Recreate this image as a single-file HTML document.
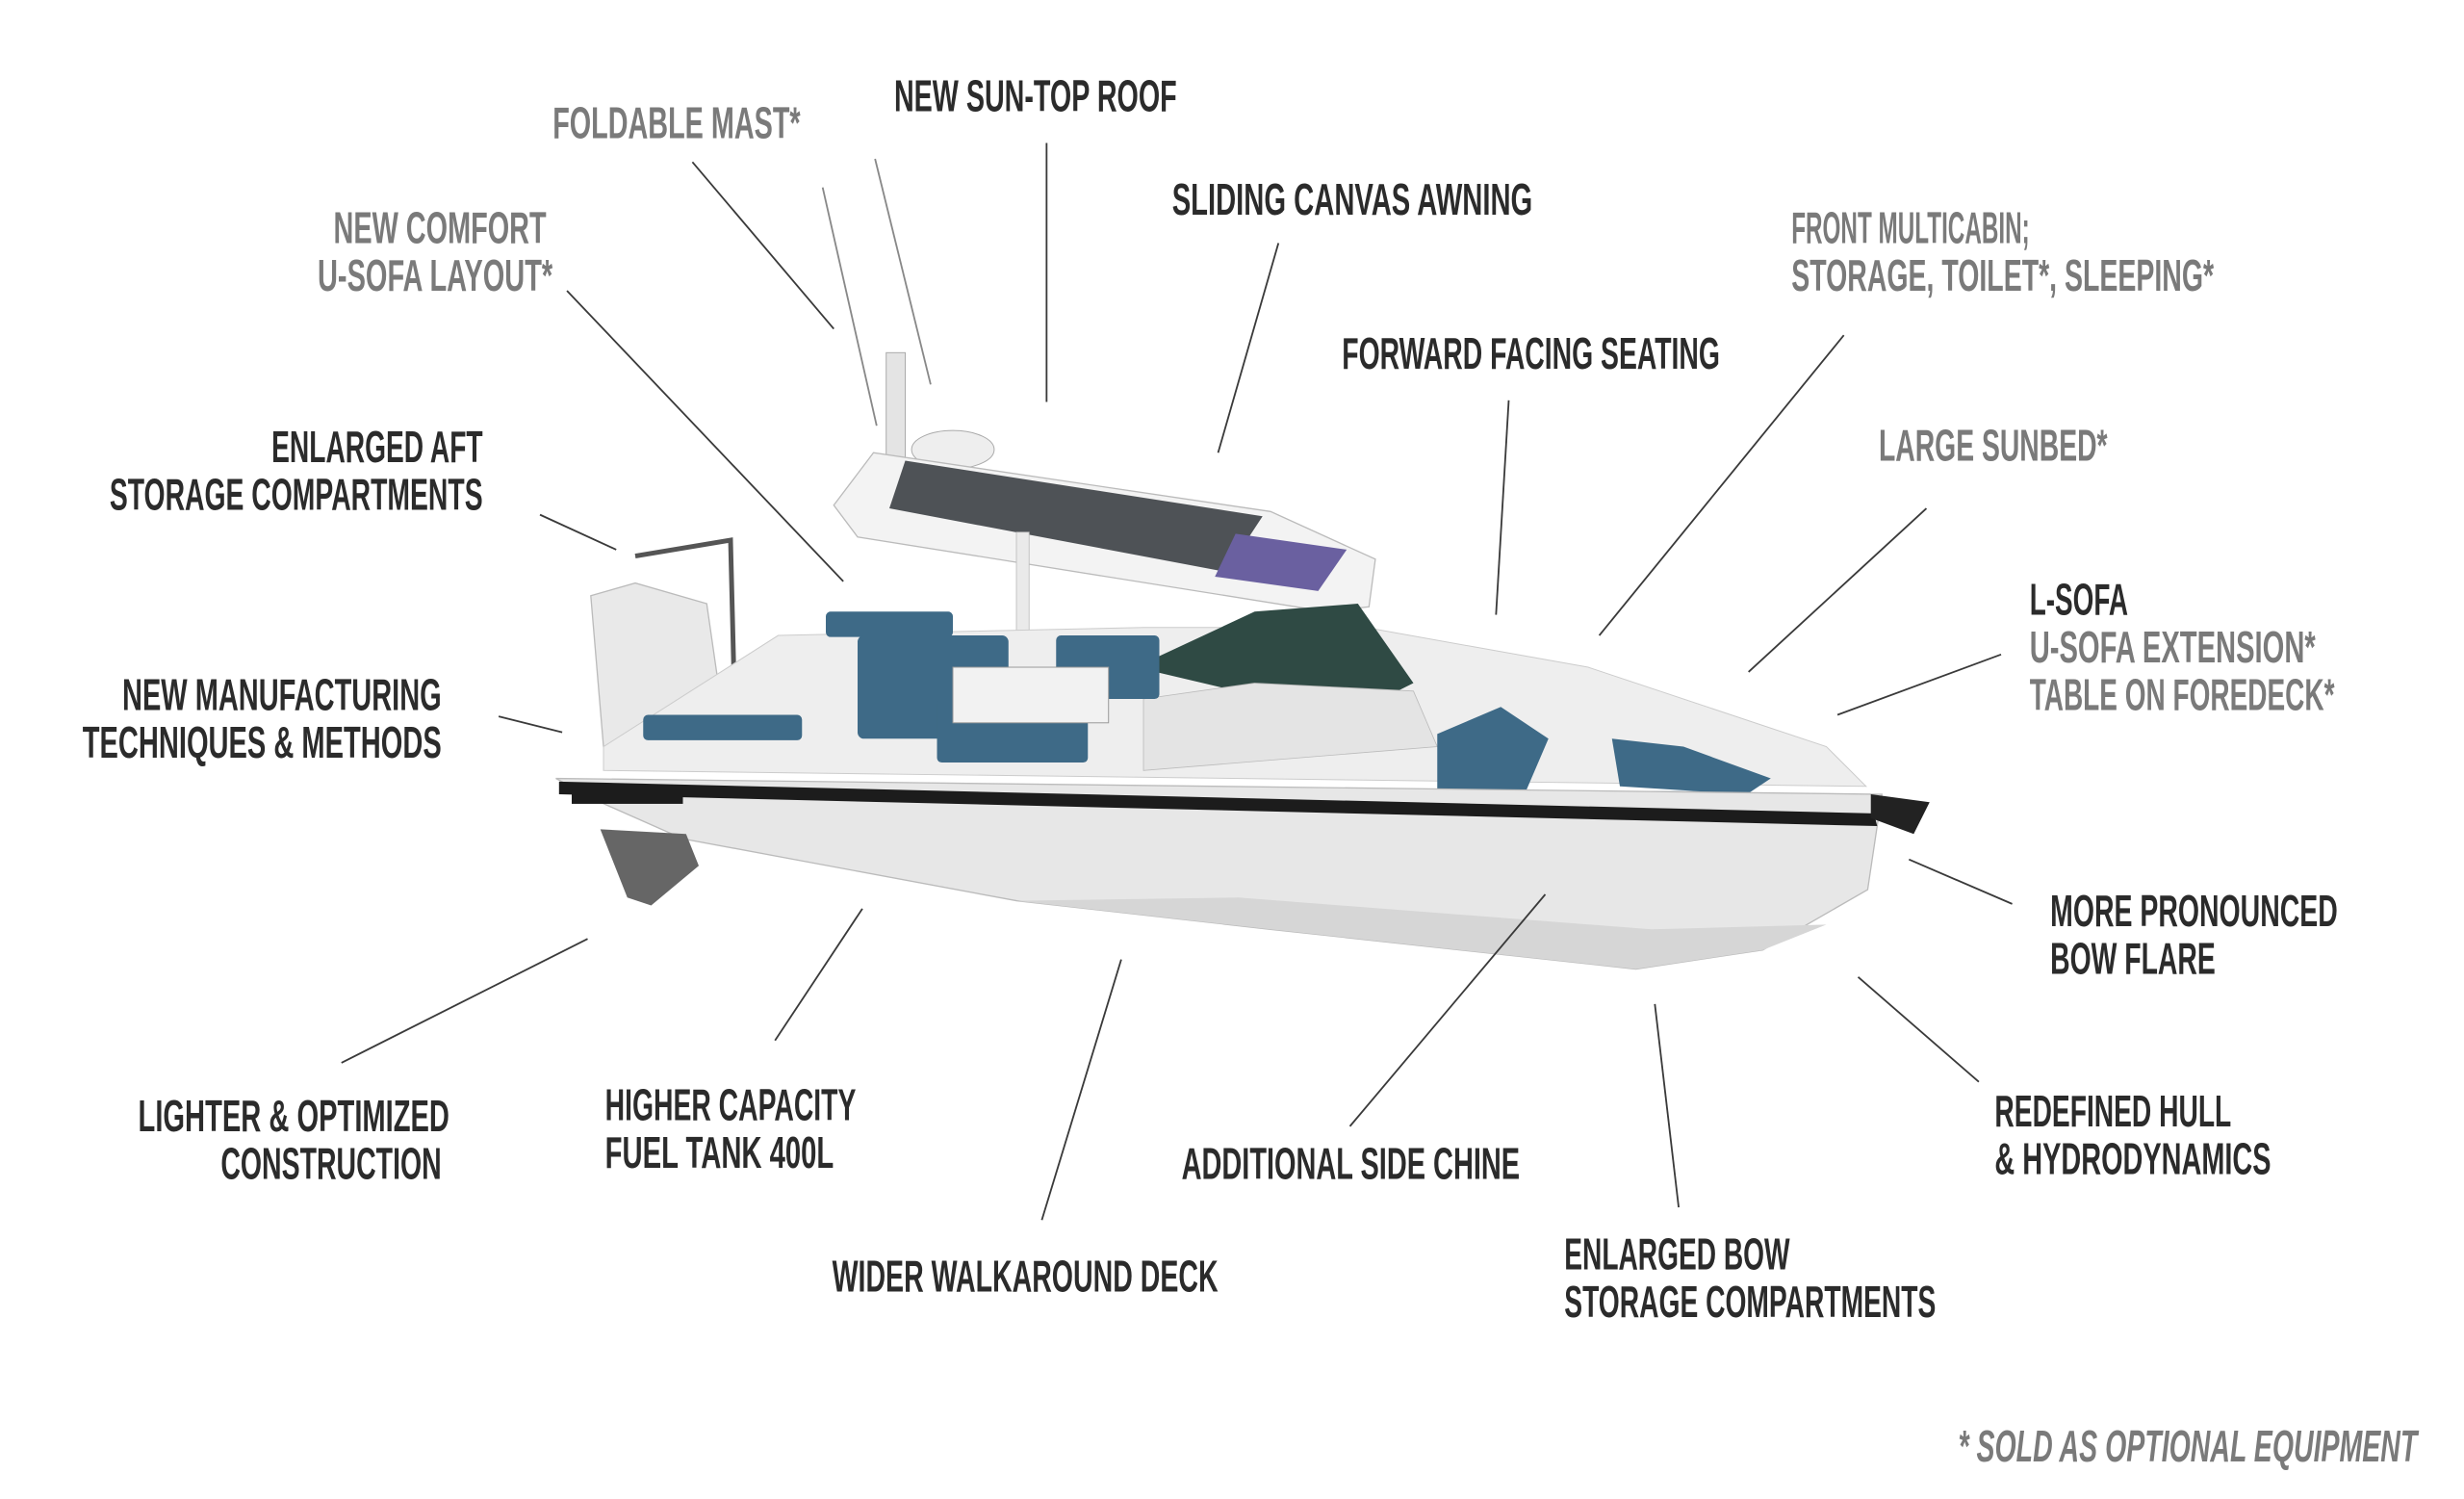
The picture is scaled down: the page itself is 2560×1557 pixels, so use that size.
<!DOCTYPE html>
<html><head><meta charset="utf-8"><style>
html,body{margin:0;padding:0;background:#fff;}
svg{display:block;}
text{font-family:"Liberation Sans",sans-serif;font-weight:bold;font-size:28px;}
.d{fill:#2b2b2b;} .g{fill:#7a7a7a;}
line{stroke:#3a3a3a;stroke-width:1.1;}
</style></head><body>
<svg width="2560" height="1557" viewBox="0 0 1551.5 943.6" preserveAspectRatio="none" xmlns="http://www.w3.org/2000/svg">
<rect width="1551.5" height="943.6" fill="#fff"/>
<!-- boat -->
<g>
<!-- mast -->
<line x1="518" y1="118" x2="552" y2="268" style="stroke:#888"/>
<line x1="551" y1="100" x2="586" y2="242" style="stroke:#888"/>
<rect x="558" y="222" width="12" height="70" fill="#e4e4e4" stroke="#aaa" stroke-width="0.6"/>
<ellipse cx="600" cy="283" rx="26" ry="12" fill="#eee" stroke="#aaa" stroke-width="0.6"/>
<!-- roof -->
<path d="M525,318 L550,285 L800,322 L866,352 L862,382 L835,385 L540,338 Z" fill="#f3f3f3" stroke="#bbb" stroke-width="0.8"/>
<path d="M570,290 L795,325 L772,360 L560,320 Z" fill="#4e5256"/>
<path d="M778,336 L848,346 L830,372 L765,363 Z" fill="#6a60a0"/>
<rect x="640" y="335" width="8" height="120" fill="#eaeaea" stroke="#bbb" stroke-width="0.5"/>
<!-- engine -->
<path d="M372,375 L400,367 L445,380 L458,470 L380,470 Z" fill="#e9e9e9" stroke="#bbb" stroke-width="0.8"/>
<path d="M400,350 L460,340 L462,420" fill="none" stroke="#555" stroke-width="3"/>
<!-- deck interior -->
<path d="M380,470 L490,400 L720,395 L860,395 L1000,420 L1150,470 L1175,495 L380,485 Z" fill="#eeeeee" stroke="#ccc" stroke-width="0.6"/>
<!-- windshield -->
<path d="M715,420 L790,385 L855,380 L890,430 L870,440 L800,440 Z" fill="#2f4a44"/>
<path d="M720,440 L790,430 L890,435 L905,470 L720,485 Z" fill="#e4e4e4" stroke="#bbb" stroke-width="0.5"/>
<!-- seats -->
<g fill="#3e6a87">
<rect x="520" y="385" width="80" height="16" rx="3"/>
<rect x="540" y="400" width="95" height="65" rx="4"/>
<rect x="590" y="440" width="95" height="40" rx="3"/>
<rect x="665" y="400" width="65" height="40" rx="3"/>
<rect x="405" y="450" width="100" height="16" rx="3"/>
<path d="M905,462 L945,445 L975,465 L960,500 L905,500 Z"/>
<path d="M1015,465 L1060,470 L1115,490 L1100,500 L1020,495 Z"/>
<rect x="960" y="498" width="130" height="12" rx="3"/>
</g>
<rect x="600" y="420" width="98" height="35" fill="#f2f2f2" stroke="#999" stroke-width="0.6"/>
<!-- hull -->
<path d="M350,490 L1185,500 L1176,560 L1110,598 L1030,610 L800,585 L640,567 L430,528 L378,505 Z" fill="#e7e7e7" stroke="#bbb" stroke-width="0.8"/>
<path d="M640,567 L800,585 L1030,610 L1110,598 L1150,582 L1040,585 L780,565 Z" fill="#d6d6d6"/>
<path d="M352,492 L1180,512 L1182,520 L352,500 Z" fill="#1c1c1c"/>
<rect x="360" y="497" width="70" height="9" fill="#1c1c1c"/>
<!-- leg -->
<path d="M378,522 L432,525 L440,545 L410,570 L395,565 Z" fill="#666"/>
<path d="M1178,500 L1215,505 L1205,525 L1178,515 Z" fill="#222"/>
</g>
<!-- leader lines -->
<line x1="436" y1="102" x2="525" y2="207"/>
<line x1="659" y1="90" x2="659" y2="253"/>
<line x1="357" y1="183" x2="531" y2="366"/>
<line x1="805" y1="153" x2="767" y2="285"/>
<line x1="1161" y1="211" x2="1007" y2="400"/>
<line x1="950" y1="252" x2="942" y2="387"/>
<line x1="340" y1="324" x2="388" y2="346"/>
<line x1="1213" y1="320" x2="1101" y2="423"/>
<line x1="1260" y1="412" x2="1157" y2="450"/>
<line x1="314" y1="451" x2="354" y2="461"/>
<line x1="1267" y1="569" x2="1202" y2="541"/>
<line x1="215" y1="669" x2="370" y2="591"/>
<line x1="488" y1="655" x2="543" y2="572"/>
<line x1="850" y1="709" x2="973" y2="563"/>
<line x1="1246" y1="681" x2="1170" y2="615"/>
<line x1="656" y1="768" x2="706" y2="604"/>
<line x1="1057" y1="760" x2="1042" y2="632"/>
<!-- labels -->
<g lengthAdjust="spacingAndGlyphs">
<text class="g" x="348" y="87" textLength="156" lengthAdjust="spacingAndGlyphs">FOLDABLE MAST*</text>
<text class="d" x="563" y="70" textLength="178" lengthAdjust="spacingAndGlyphs">NEW SUN-TOP ROOF</text>
<text class="g" x="210" y="153" textLength="134" lengthAdjust="spacingAndGlyphs">NEW COMFORT</text>
<text class="g" x="200" y="183" textLength="148" lengthAdjust="spacingAndGlyphs">U-SOFA LAYOUT*</text>
<text class="d" x="738" y="135" textLength="227" lengthAdjust="spacingAndGlyphs">SLIDING CANVAS AWNING</text>
<text class="g" x="1128" y="153" textLength="150" lengthAdjust="spacingAndGlyphs">FRONT MULTICABIN;</text>
<text class="g" x="1128" y="183" textLength="266" lengthAdjust="spacingAndGlyphs">STORAGE, TOILET*, SLEEPING*</text>
<text class="d" x="845" y="232" textLength="238" lengthAdjust="spacingAndGlyphs">FORWARD FACING SEATING</text>
<text class="d" x="171" y="291" textLength="133" lengthAdjust="spacingAndGlyphs">ENLARGED AFT</text>
<text class="d" x="69" y="321" textLength="235" lengthAdjust="spacingAndGlyphs">STORAGE COMPARTMENTS</text>
<text class="g" x="1183" y="290" textLength="144" lengthAdjust="spacingAndGlyphs">LARGE SUNBED*</text>
<text class="d" x="1278" y="387" textLength="62" lengthAdjust="spacingAndGlyphs">L-SOFA</text>
<text class="g" x="1278" y="417" textLength="180" lengthAdjust="spacingAndGlyphs">U-SOFA EXTENSION*</text>
<text class="g" x="1278" y="447" textLength="192" lengthAdjust="spacingAndGlyphs">TABLE ON FOREDECK*</text>
<text class="d" x="77" y="447" textLength="201" lengthAdjust="spacingAndGlyphs">NEW MANUFACTURING</text>
<text class="d" x="52" y="477" textLength="226" lengthAdjust="spacingAndGlyphs">TECHNIQUES &amp; METHODS</text>
<text class="d" x="1291" y="583" textLength="181" lengthAdjust="spacingAndGlyphs">MORE PRONOUNCED</text>
<text class="d" x="1291" y="613" textLength="104" lengthAdjust="spacingAndGlyphs">BOW FLARE</text>
<text class="d" x="87" y="712" textLength="196" lengthAdjust="spacingAndGlyphs">LIGHTER &amp; OPTIMIZED</text>
<text class="d" x="139" y="742" textLength="139" lengthAdjust="spacingAndGlyphs">CONSTRUCTION</text>
<text class="d" x="381" y="705" textLength="158" lengthAdjust="spacingAndGlyphs">HIGHER CAPACITY</text>
<text class="d" x="381" y="735" textLength="144" lengthAdjust="spacingAndGlyphs">FUEL TANK 400L</text>
<text class="d" x="744" y="742" textLength="213" lengthAdjust="spacingAndGlyphs">ADDITIONAL SIDE CHINE</text>
<text class="d" x="1256" y="709" textLength="149" lengthAdjust="spacingAndGlyphs">REDEFINED HULL</text>
<text class="d" x="1256" y="739" textLength="174" lengthAdjust="spacingAndGlyphs">&amp; HYDRODYNAMICS</text>
<text class="d" x="524" y="813" textLength="243" lengthAdjust="spacingAndGlyphs">WIDER WALKAROUND DECK</text>
<text class="d" x="985" y="799" textLength="142" lengthAdjust="spacingAndGlyphs">ENLARGED BOW</text>
<text class="d" x="985" y="829" textLength="234" lengthAdjust="spacingAndGlyphs">STORAGE COMPARTMENTS</text>
<text class="g" x="1233" y="920" textLength="289" lengthAdjust="spacingAndGlyphs" font-style="italic">* SOLD AS OPTIONAL EQUIPMENT</text>
</g>
</svg>
</body></html>
